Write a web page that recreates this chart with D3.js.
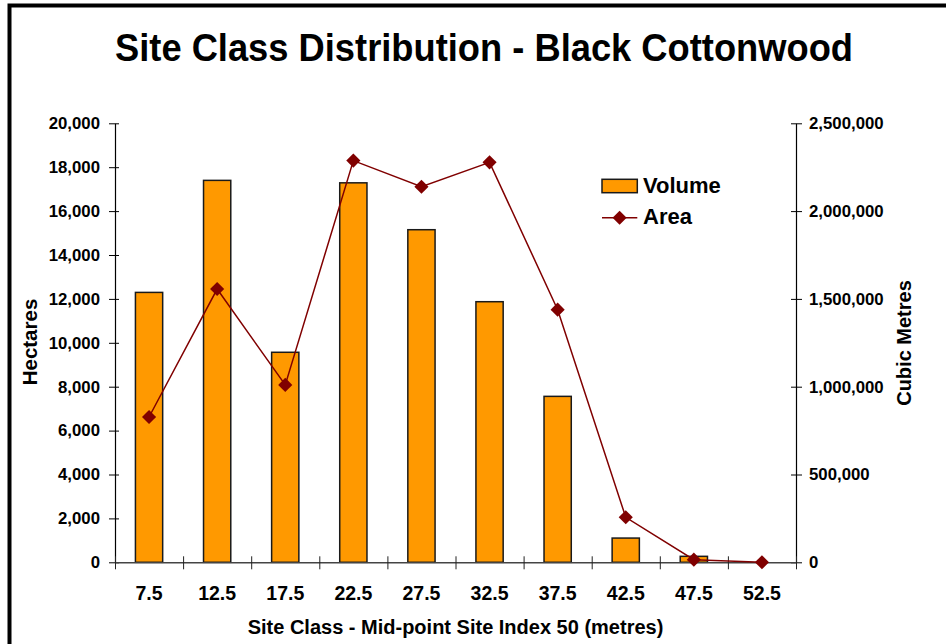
<!DOCTYPE html>
<html>
<head>
<meta charset="utf-8">
<script src="https://cdn.jsdelivr.net/npm/d3@7"></script>
<style>
  html, body { margin: 0; padding: 0; background: #fff; }
  svg { display: block; }
  text { font-family: "Liberation Sans", Arial, sans-serif; font-weight: bold; fill: #000; }
</style>
</head>
<body>
<svg id="chart" width="946" height="644"></svg>
<script>
// Site classes (mid-point site index 50, metres)
const siteClasses = ["7.5", "12.5", "17.5", "22.5", "27.5", "32.5", "37.5", "42.5", "47.5", "52.5"];
// Volume per site class, cubic metres (bars, right axis)
const volumeM3 = [1537000, 2175000, 1196000, 2161000, 1894000, 1484000, 945000, 138000, 34000, 0];
// Area per site class, hectares (line, left axis)
const areaHa = [6620, 12450, 8080, 18300, 17110, 18220, 11510, 2050, 120, 0];
// Axis ticks
const hectareTicks = [0, 2000, 4000, 6000, 8000, 10000, 12000, 14000, 16000, 18000, 20000];
const cubicTicks = [0, 500000, 1000000, 1500000, 2000000, 2500000];

const svg = d3.select("#chart");
const plot = { left: 115, right: 796, top: 123.3, bottom: 562.3 };

// Outer frame
svg.append("rect")
  .attr("x", 9.5).attr("y", 5.5)
  .attr("width", 1000).attr("height", 700)
  .attr("fill", "none").attr("stroke", "#000").attr("stroke-width", 4);

// Title
svg.append("text")
  .attr("x", 484).attr("y", 61)
  .attr("text-anchor", "middle")
  .attr("font-size", 39)
  .attr("textLength", 738).attr("lengthAdjust", "spacingAndGlyphs")
  .text("Site Class Distribution - Black Cottonwood");

const x = d3.scaleBand().domain(siteClasses).range([plot.left, plot.right]).paddingInner(0);
const xEdges = d3.scaleLinear().domain([0, siteClasses.length]).range([plot.left, plot.right]);
const yArea = d3.scaleLinear().domain([0, 20000]).range([plot.bottom, plot.top]);
const yVol = d3.scaleLinear().domain([0, 2500000]).range([plot.bottom, plot.top]);

// Volume bars
const barW = x.bandwidth() * 0.4;
svg.append("g").selectAll("rect")
  .data(siteClasses.map((c, i) => ({ c, v: volumeM3[i] })))
  .join("rect")
  .attr("x", d => x(d.c) + (x.bandwidth() - barW) / 2)
  .attr("y", d => yVol(d.v))
  .attr("width", barW)
  .attr("height", d => yVol(0) - yVol(d.v))
  .attr("fill", "#FF9900")
  .attr("stroke", "#1a1a1a")
  .attr("stroke-width", 1.5);

// Left axis (hectares)
const fmt = d3.format(",");
const gL = svg.append("g")
  .attr("transform", `translate(${plot.left},0)`)
  .call(d3.axisLeft(yArea).tickValues(hectareTicks).tickFormat(fmt).tickSizeInner(6).tickSizeOuter(0).tickPadding(9));
gL.selectAll(".tick line").attr("x2", -6).attr("x1", 4);
gL.selectAll(".tick text").attr("font-size", 16.8).attr("font-family", null);
gL.select(".domain").attr("stroke", "#000").attr("stroke-width", 1.2);

// Right axis (cubic metres)
const gR = svg.append("g")
  .attr("transform", `translate(${plot.right},0)`)
  .call(d3.axisRight(yVol).tickValues(cubicTicks).tickFormat(fmt).tickSizeInner(6).tickSizeOuter(0).tickPadding(7));
gR.selectAll(".tick line").attr("x1", -5).attr("x2", 6);
gR.selectAll(".tick text").attr("font-size", 16.8).attr("font-family", null);
gR.select(".domain").attr("stroke", "#000").attr("stroke-width", 1.2);

// Bottom axis: ticks at class boundaries, labels at class centres
const gB = svg.append("g")
  .attr("transform", `translate(0,${plot.bottom})`)
  .call(d3.axisBottom(xEdges).tickValues(d3.range(siteClasses.length + 1)).tickFormat("").tickSizeInner(7).tickSizeOuter(0));
gB.selectAll(".tick line").attr("y1", -6).attr("y2", 7).attr("stroke", "#222");
gB.select(".domain").attr("stroke", "#444").attr("stroke-width", 1.4);

const gBL = svg.append("g")
  .attr("transform", `translate(0,${plot.bottom})`)
  .call(d3.axisBottom(x).tickSize(0).tickPadding(0));
gBL.select(".domain").remove();
gBL.selectAll(".tick text").attr("font-size", 19.5).attr("font-family", null).attr("dy", null).attr("y", 37.5);

// Area line with diamond markers
const line = d3.line()
  .x((d, i) => x(siteClasses[i]) + x.bandwidth() / 2)
  .y(d => yArea(d));
svg.append("path")
  .datum(areaHa)
  .attr("d", line)
  .attr("fill", "none")
  .attr("stroke", "#800000")
  .attr("stroke-width", 1.5);

const diamond = d3.symbol().type(d3.symbolSquare).size(100);
svg.append("g").selectAll("path")
  .data(areaHa)
  .join("path")
  .attr("d", diamond)
  .attr("transform", (d, i) => `translate(${x(siteClasses[i]) + x.bandwidth() / 2},${yArea(d)}) rotate(45)`)
  .attr("fill", "#800000");

// Axis titles
svg.append("text")
  .attr("transform", "translate(37,342) rotate(-90)")
  .attr("text-anchor", "middle")
  .attr("font-size", 20.5)
  .text("Hectares");
svg.append("text")
  .attr("transform", "translate(911,343) rotate(-90)")
  .attr("text-anchor", "middle")
  .attr("font-size", 20)
  .text("Cubic Metres");
svg.append("text")
  .attr("x", (plot.left + plot.right) / 2).attr("y", 634)
  .attr("text-anchor", "middle")
  .attr("font-size", 20)
  .text("Site Class - Mid-point Site Index 50 (metres)");

// Legend
const legend = svg.append("g");
legend.append("rect")
  .attr("x", 602).attr("y", 179.3).attr("width", 35.3).attr("height", 13.4)
  .attr("fill", "#FF9900").attr("stroke", "#1a1a1a").attr("stroke-width", 1.5);
legend.append("text").attr("x", 643).attr("y", 193.3).attr("font-size", 22).text("Volume");
legend.append("line")
  .attr("x1", 602).attr("x2", 637.3).attr("y1", 217.7).attr("y2", 217.7)
  .attr("stroke", "#800000").attr("stroke-width", 1.5);
legend.append("path")
  .attr("d", diamond)
  .attr("transform", "translate(619.6,217.7) rotate(45)")
  .attr("fill", "#800000");
legend.append("text").attr("x", 643).attr("y", 224).attr("font-size", 22).text("Area");
</script>
</body>
</html>
